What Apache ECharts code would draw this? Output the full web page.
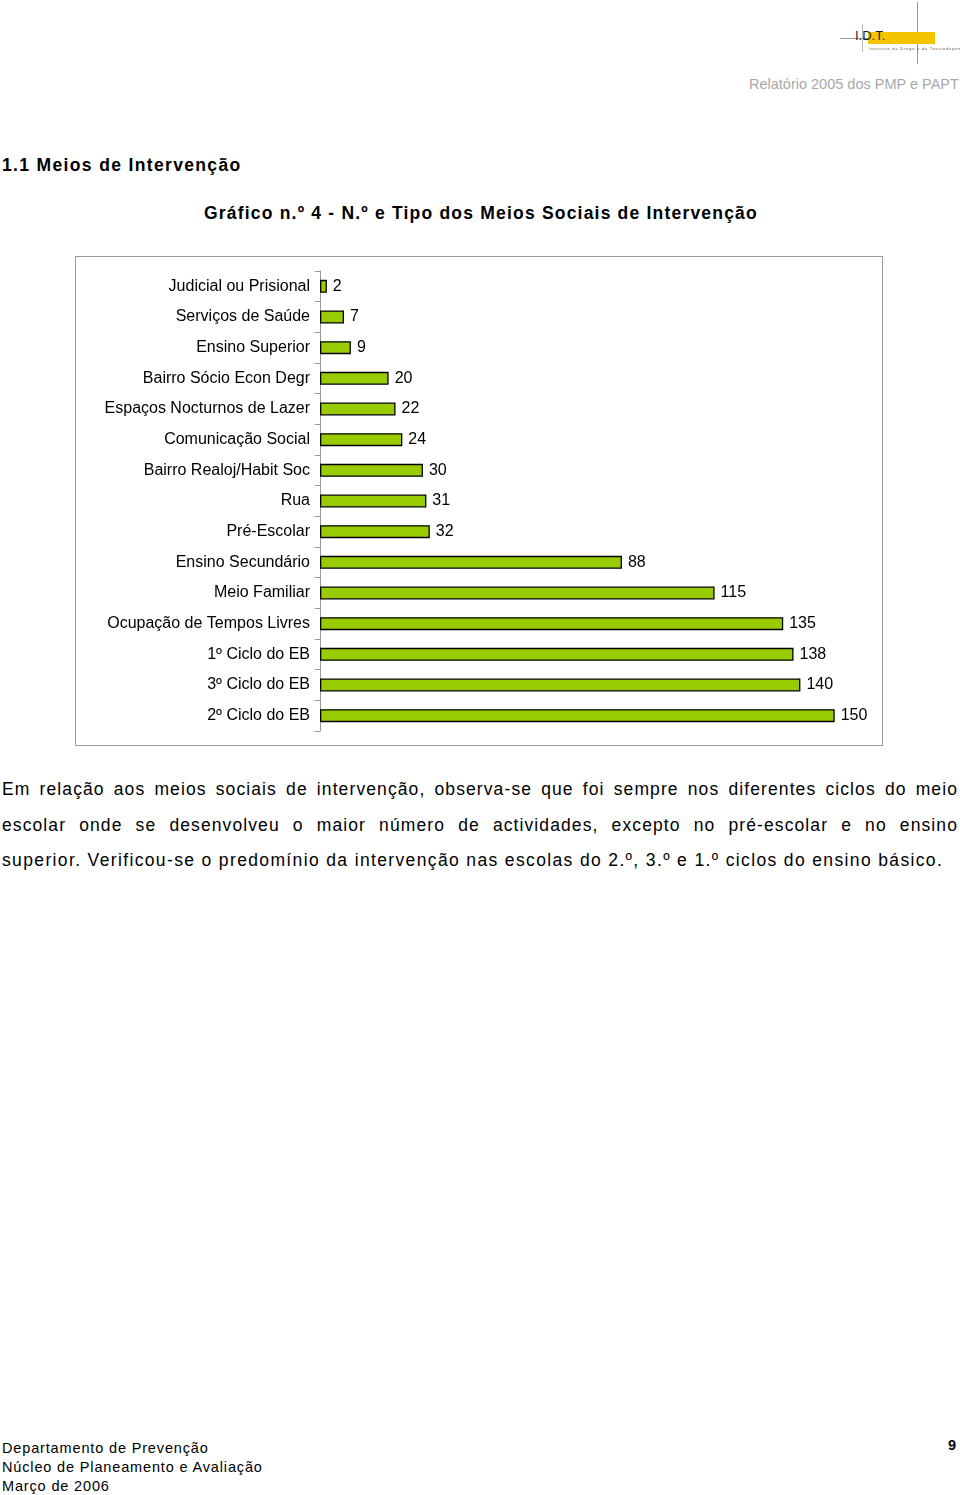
<!DOCTYPE html>
<html><head><meta charset="utf-8">
<script src="https://cdn.jsdelivr.net/npm/echarts@6/dist/echarts.min.js"></script>
<style>
html,body{margin:0;padding:0;background:#fff;}
body{width:960px;height:1495px;position:relative;overflow:hidden;font-family:"Liberation Sans",Arial,sans-serif;color:#000;}
.abs{position:absolute;white-space:nowrap;}
#chart{position:absolute;left:75px;top:256px;width:808px;height:490px;box-sizing:border-box;border:1px solid #9a9a9a;}
.pl{position:absolute;left:2px;width:956px;font-size:17.5px;line-height:22px;white-space:nowrap;}
.j{text-align:justify;text-align-last:justify;letter-spacing:1.1px;}
</style></head><body>
<!-- logo -->
<div class="abs" style="left:840px;top:38px;width:60px;height:1px;background:#999"></div>
<div class="abs" style="left:917px;top:2px;width:1px;height:62px;background:#999"></div>
<div class="abs" style="left:862px;top:24px;width:1px;height:28px;background:#bbb"></div>
<div class="abs" style="left:868px;top:32px;width:67px;height:12px;background:#f5c400"></div>
<div class="abs" style="left:855px;top:28px;font-size:13px;color:#222">I.D.T.</div>
<div class="abs" style="left:869px;top:46px;font-size:4px;color:#555;letter-spacing:0.8px">Instituto da Droga e da Toxicodependência</div>
<div class="abs" style="left:749px;top:76px;font-size:14.5px;color:#a8a8a8">Relatório 2005 dos PMP e PAPT</div>
<div class="abs" style="left:2px;top:155px;font-size:17.5px;font-weight:bold;letter-spacing:1.35px">1.1 Meios de Intervenção</div>
<div class="abs" style="left:204px;top:203px;font-size:17.5px;font-weight:bold;letter-spacing:1.2px">Gráfico n.º 4 - N.º e Tipo dos Meios Sociais de Intervenção</div>
<div id="chart"></div>
<div class="pl j" style="top:778px;white-space:normal;height:22px;overflow:hidden">Em relação aos meios sociais de intervenção, observa-se que foi sempre nos diferentes ciclos do meio</div>
<div class="pl j" style="top:814px;white-space:normal;height:22px;overflow:hidden">escolar onde se desenvolveu o maior número de actividades, excepto no pré-escolar e no ensino</div>
<div class="pl" style="top:849px;letter-spacing:1.36px">superior. Verificou-se o predomínio da intervenção nas escolas do 2.º, 3.º e 1.º ciclos do ensino básico.</div>
<div class="abs" style="left:2px;top:1439px;font-size:14.5px;line-height:19px;letter-spacing:0.85px">Departamento de Prevenção<br>Núcleo de Planeamento e Avaliação<br>Março de 2006</div>
<div class="abs" style="left:948px;top:1437px;font-size:14.5px;font-weight:bold">9</div>
<script>
var categories = ["Judicial ou Prisional","Serviços de Saúde","Ensino Superior","Bairro Sócio Econ Degr","Espaços Nocturnos de Lazer","Comunicação Social","Bairro Realoj/Habit Soc","Rua","Pré-Escolar","Ensino Secundário","Meio Familiar","Ocupação de Tempos Livres","1º Ciclo do EB","3º Ciclo do EB","2º Ciclo do EB"];
var values = [2,7,9,20,22,24,30,31,32,88,115,135,138,140,150];
var chart = echarts.init(document.getElementById('chart'), null, {renderer:'canvas'});
chart.setOption({
  animation:false,
  grid:{left:244,right:13,top:14,bottom:14,containLabel:false},
  xAxis:{type:'value',min:0,max:160,show:false},
  yAxis:{type:'category',data:categories,inverse:true,
    axisLine:{show:true,lineStyle:{color:'#999',width:1}},
    axisTick:{show:true,length:5,lineStyle:{color:'#999'}},
    axisLabel:{color:'#000',fontSize:16,fontFamily:'Liberation Sans, Arial',margin:10},
    splitLine:{show:false}},
  series:[{type:'bar',data:values,barWidth:13,
    itemStyle:{color:'#99cc00',borderColor:'#000',borderWidth:1.3},
    label:{show:true,position:'right',distance:6,color:'#000',fontSize:16,fontFamily:'Liberation Sans, Arial'}}]
});
</script>
</body></html>
